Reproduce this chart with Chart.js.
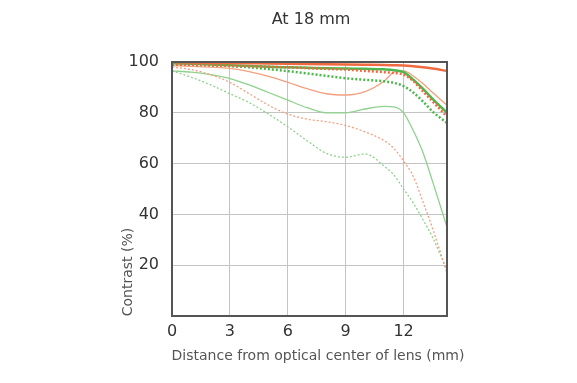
<!DOCTYPE html>
<html>
<head>
<meta charset="utf-8">
<script src="https://cdn.jsdelivr.net/npm/chart.js@4.4.1/dist/chart.umd.min.js"></script>
<style>
  html, body { margin: 0; padding: 0; background: #fff; }
  #wrap { width: 577px; height: 383px; }
</style>
</head>
<body>
<div id="wrap"><canvas id="mtf"></canvas></div>
<script>
// image height positions (mm from centre) shared by every curve
const distances = [0, 1, 2, 3, 4, 5, 6, 7, 8, 9, 10, 11, 11.5, 12, 12.5, 13, 13.5, 14.25];
const xTickValues = [0, 3, 6, 9, 12];
const yTickValues = [20, 40, 60, 80, 100];

// contrast (%)
const red10Sag   = [100, 99.8, 99.7, 99.6, 99.5, 99.4, 99.3, 99.2, 99.1, 99, 98.9, 98.8, 98.7, 98.6, 98.3, 97.9, 97.4, 96.5];
const red10Mer   = [99, 98.9, 98.7, 98.5, 98.3, 98.1, 97.9, 97.6, 97.3, 97, 96.5, 96, 95.7, 95, 92.5, 88.5, 84.5, 78.5];
const green10Sag = [99.5, 99.3, 99, 98.7, 98.4, 98.1, 97.9, 97.7, 97.5, 97.4, 97.3, 97.1, 96.8, 96, 93, 89.5, 85.5, 80];
const green10Mer = [99, 98.9, 98.7, 98.4, 97.9, 97.2, 96.4, 95.5, 94.5, 93.6, 93, 92.4, 91.8, 90.5, 88, 84.5, 80.5, 76];
const red30Sag   = [98.5, 98.3, 98, 97.5, 96.2, 94.3, 92, 89.5, 87.5, 87, 88.3, 92.5, 96, 96.5, 94.5, 91.5, 88, 83];
const red30Mer   = [98, 97, 95, 92, 87.5, 83, 79.5, 77.5, 76.5, 75, 72.5, 69, 66, 61, 55, 45, 34.5, 17];
const green30Sag = [96.5, 96, 95, 93.5, 91, 88, 85, 82, 80, 80, 81.5, 82.5, 82.3, 80, 73, 64.5, 53, 35];
const green30Mer = [96.5, 94, 91, 87.5, 84, 79.5, 74.5, 69, 64, 62.5, 63.8, 59, 55.5, 50, 44.5, 38, 31, 18];

const RED = '#ef6a3e', RED_LIGHT = '#f3a07f';
const GREEN = '#4db74d', GREEN_LIGHT = '#8fd18f';

function pts(ys) {
  return ys.map((y, i) => ({ x: distances[i], y }));
}

function line(label, ys, color, width, dotted) {
  return {
    label,
    data: pts(ys),
    borderColor: color,
    borderWidth: width,
    borderDash: dotted ? [2, 2] : [],
    pointRadius: 0,
    fill: false,
    cubicInterpolationMode: 'monotone'
  };
}

const FONT = '"DejaVu Sans", sans-serif';

// frame + title + axis titles drawn round the plot area
const decor = {
  id: 'decor',
  afterDraw(chart) {
    const { ctx, chartArea: a } = chart;
    ctx.save();
    ctx.strokeStyle = '#555';
    ctx.lineWidth = 2;
    ctx.strokeRect(a.left, a.top, a.right - a.left, a.bottom - a.top);

    ctx.fillStyle = '#333';
    ctx.textAlign = 'center';
    ctx.textBaseline = 'middle';
    ctx.font = '16px ' + FONT;
    ctx.fillText('At 18 mm', 311, 20);

    ctx.fillStyle = '#555';
    ctx.font = '14px ' + FONT;
    ctx.fillText('Distance from optical center of lens (mm)', 318, 356);

    ctx.translate(128, 272);
    ctx.rotate(-Math.PI / 2);
    ctx.fillText('Contrast (%)', 0, 0);
    ctx.restore();
  }
};

new Chart(document.getElementById('mtf'), {
  type: 'line',
  data: {
    datasets: [
      line('10 lp/mm S', red10Sag, RED, 2.5, false),
      line('10 lp/mm M', red10Mer, RED, 2.5, true),
      line('30 lp/mm S thick', green10Sag, GREEN, 2.5, false),
      line('30 lp/mm M thick', green10Mer, GREEN, 2.5, true),
      line('10 lp/mm S thin', red30Sag, RED_LIGHT, 1.3, false),
      line('10 lp/mm M thin', red30Mer, RED_LIGHT, 1.3, true),
      line('30 lp/mm S thin', green30Sag, GREEN_LIGHT, 1.3, false),
      line('30 lp/mm M thin', green30Mer, GREEN_LIGHT, 1.3, true)
    ]
  },
  options: {
    responsive: true,
    maintainAspectRatio: false,
    animation: false,
    layout: { padding: { left: 0, right: 130, top: 62, bottom: 0 } },
    plugins: { legend: { display: false }, tooltip: { enabled: false } },
    scales: {
      x: {
        type: 'linear',
        min: 0,
        max: 14.25,
        afterBuildTicks: s => { s.ticks = xTickValues.map(v => ({ value: v })); },
        afterFit: s => { s.height = 383 - 316; },
        grid: { color: '#c4c4c4', lineWidth: 1, drawTicks: false },
        border: { display: false },
        ticks: { color: '#333', font: { size: 16, family: FONT }, padding: 6, maxRotation: 0 }
      },
      y: {
        min: 0,
        max: 100,
        afterBuildTicks: s => { s.ticks = yTickValues.map(v => ({ value: v })); },
        afterFit: s => { s.width = 172; },
        grid: { color: '#c4c4c4', lineWidth: 1, drawTicks: false },
        border: { display: false },
        ticks: { color: '#333', font: { size: 16, family: FONT }, padding: 13 }
      }
    }
  },
  plugins: [decor]
});
</script>
</body>
</html>
